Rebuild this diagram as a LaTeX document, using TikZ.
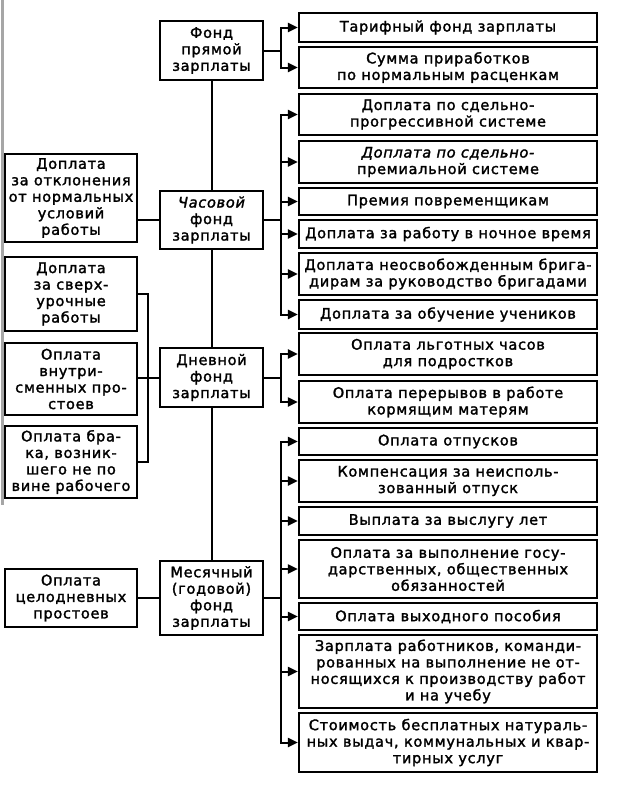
\documentclass[tikz,border=0pt]{standalone}
\usepackage{fontspec}
\setmainfont{DejaVu Sans}[LetterSpace=5, FakeBold=1.8]
\usetikzlibrary{arrows.meta}
\tikzset{
  bx/.style={draw, line width=2.2pt, align=center, inner sep=0pt,
             font=\fontsize{14.5}{16.5}\selectfont},
  rb/.style={bx, minimum width=298pt},
  mb/.style={bx, minimum width=103pt},
  lb/.style={bx, minimum width=132pt},
  ln/.style={line width=2pt, line cap=rect},
  ar/.style={line width=2pt, -{Triangle[length=10pt,width=9pt]}},
}
\begin{document}
\begin{tikzpicture}[x=1pt,y=-1pt]
\useasboundingbox (0,0) rectangle (635,787);
\draw[gray!70, line width=3pt] (2,0) -- (2,505);
% right boxes
\node[rb, minimum height=29pt] (r1) at (448,27.5) {Тарифный фонд зарплаты};
\node[rb, minimum height=41pt] (r2) at (448,67.5) {Сумма приработков\\по нормальным расценкам};
\node[rb, minimum height=41pt] (r3) at (448,114.5) {Доплата по сдельно-\\прогрессивной системе};
\node[rb, minimum height=42pt] (r4) at (448,162) {{\itshape Доплата по сдельно-}\\премиальной системе};
\node[rb, minimum height=27pt] (r5) at (448,201.5) {Премия повременщикам};
\node[rb, minimum height=28pt] (r6) at (448,234) {Доплата за работу в ночное время};
\node[rb, minimum height=42pt] (r7) at (448,274) {Доплата неосвобожденным брига-\\дирам за руководство бригадами};
\node[rb, minimum height=29pt] (r8) at (448,314.5) {Доплата за обучение учеников};
\node[rb, minimum height=42pt] (r9) at (448,354) {Оплата льготных часов\\для подростков};
\node[rb, minimum height=42pt] (r10) at (448,402) {Оплата перерывов в работе\\кормящим матерям};
\node[rb, minimum height=27pt] (r11) at (448,441.5) {Оплата отпусков};
\node[rb, minimum height=42pt] (r12) at (448,481) {Компенсация за неисполь-\\зованный отпуск};
\node[rb, minimum height=28pt] (r13) at (448,521) {Выплата за выслугу лет};
\node[rb, minimum height=58pt] (r14) at (448,569) {Оплата за выполнение госу-\\дарственных, общественных\\обязанностей};
\node[rb, minimum height=27pt] (r15) at (448,616.5) {Оплата выходного пособия};
\node[rb, minimum height=73pt] (r16) at (448,671.5) {Зарплата работников, команди-\\рованных на выполнение не от-\\носящихся к производству работ\\и на учебу};
\node[rb, minimum height=59pt] (r17) at (448,742.5) {Стоимость бесплатных натураль-\\ных выдач, коммунальных и квар-\\тирных услуг};
% middle boxes
\node[mb, minimum height=59pt] (m1) at (211.5,50.5) {Фонд\\прямой\\зарплаты};
\node[mb, minimum height=58pt] (m2) at (211.5,220) {{\itshape Часовой}\\фонд\\зарплаты};
\node[mb, minimum height=59pt] (m3) at (211.5,377.5) {Дневной\\фонд\\зарплаты};
\node[mb, minimum height=74pt] (m4) at (211.5,598) {Месячный\\(годовой)\\фонд\\зарплаты};
% left boxes
\node[lb, minimum height=88pt] (l1) at (71,198) {Доплата\\за отклонения\\от нормальных\\условий\\работы};
\node[lb, minimum height=74pt] (l2) at (71,294) {Доплата\\за сверх-\\урочные\\работы};
\node[lb, minimum height=72pt] (l3) at (71,379) {Оплата\\внутри-\\сменных про-\\стоев};
\node[lb, minimum height=72pt] (l4) at (71,462) {Оплата бра-\\ка, возник-\\шего не по\\вине рабочего};
\node[lb, minimum height=58pt] (l5) at (71,598) {Оплата\\целодневных\\простоев};
% vertical spine
\draw[ln] (m1.south) -- (m2.north);
\draw[ln] (m2.south) -- (m3.north);
\draw[ln] (m3.south) -- (m4.north);
% left connections
\coordinate (lbus) at (148,0);
\draw[ln] (m2.west -| l1.east) -- (m2.west);
\draw[ln] (l2.east) -- (l2.east -| lbus) -- (l4.east -| lbus) -- (l4.east);
\draw[ln] (m3.west -| l3.east) -- (m3.west);
\draw[ln] (l5.east) -- (m4.west);
% right buses
\coordinate (rbus) at (281,0);
\draw[ln] (m1.east) -- (m1.east -| rbus);
\draw[ln] (rbus |- r1.west) -- (rbus |- r2.west);
\foreach \r in {r1,r2} \draw[ar] (rbus |- \r.west) -- (\r.west);
\draw[ln] (m2.east) -- (m2.east -| rbus);
\draw[ln] (rbus |- r3.west) -- (rbus |- r8.west);
\foreach \r in {r3,r4,r5,r6,r7,r8} \draw[ar] (rbus |- \r.west) -- (\r.west);
\draw[ln] (m3.east) -- (m3.east -| rbus);
\draw[ln] (rbus |- r9.west) -- (rbus |- r10.west);
\foreach \r in {r9,r10} \draw[ar] (rbus |- \r.west) -- (\r.west);
\draw[ln] (m4.east) -- (m4.east -| rbus);
\draw[ln] (rbus |- r11.west) -- (rbus |- r17.west);
\foreach \r in {r11,r12,r13,r14,r15,r16,r17} \draw[ar] (rbus |- \r.west) -- (\r.west);
\end{tikzpicture}
\end{document}
